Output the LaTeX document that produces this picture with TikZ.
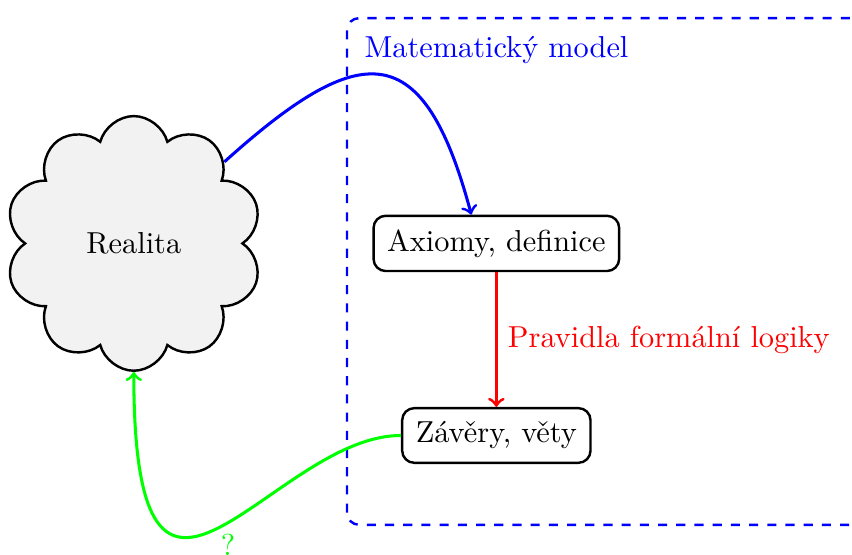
\documentclass[tikz,border=0pt]{standalone}
\usepackage{tikz}
\usetikzlibrary{shapes.symbols,positioning}

\begin{document}
\begin{tikzpicture}
\tikzstyle{box}=[draw, thick, rounded corners, inner sep=4.5pt]
\tikzstyle{mrak}=[draw, thick, cloud, cloud puffs=10, fill=black!5, minimum width=2.98cm, minimum height=2.95cm]
\tikzstyle{sipka}=[->, line width=1pt]

\useasboundingbox (0,0) rectangle (9.87,6.42);

% ramec modelu
\draw[blue, thick, dashed, rounded corners] (4.02,0.34) rectangle (10.5,6.21);
\node[blue, anchor=north west] (model) at (4.1,6.12) {Matematický model};

\node[mrak] (realita) at (1.55,3.6) {Realita};
\node[box] (axiomy) at (5.75,3.6) {Axiomy, definice};
\node[box, below=1.56cm of axiomy] (zavery) {Závěry, věty};

\draw[sipka, blue] (realita) to[out=42, in=105, distance=2.14cm] ([xshift=-2.9mm]axiomy.north);
\draw[sipka, red] (axiomy) -- node[right] {Pravidla formální logiky} (zavery);
\draw[sipka, green] (zavery) to[out=180, in=-90, out distance=1.5cm, in distance=3.82cm] node[pos=0.47, below] {?} (realita);
\end{tikzpicture}
\end{document}
